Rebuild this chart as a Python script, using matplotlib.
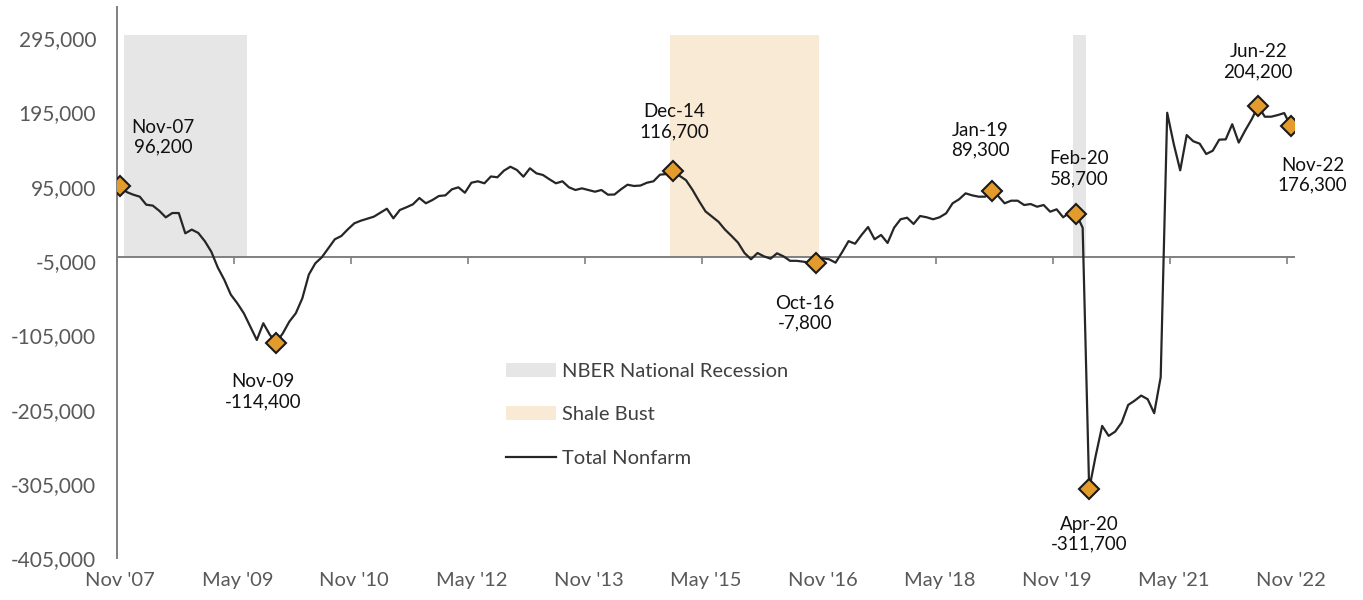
import matplotlib.pyplot as plt
import numpy as np
import pandas as pd

# over-the-year change in total nonfarm jobs, Nov 2007 - Nov 2022
months = pd.period_range('2007-11', '2022-11', freq='M')
jobs = [
    96200, 88000, 84500, 81800, 71000, 69800, 62800, 54000, 59800, 59800,
    32500, 37500, 33000, 22000, 7800, -13500, -30000, -50000, -61600, -75000,
    -93000, -111000, -88500, -104000, -114400, -102000, -86300, -75000, -54900, -23000,
    -7800, 300, 12400, 24500, 28900, 37900, 46000, 49500, 52200, 54900,
    60300, 65600, 52700, 63900, 67500, 71500, 80000, 72900, 77300, 82700,
    83600, 91700, 94400, 87100, 100600, 102500, 99800, 109000, 107900, 116800,
    122100, 117700, 108700, 120000, 113200, 111000, 105200, 99800, 102500, 94400,
    90800, 93000, 90800, 88500, 90800, 84500, 84700, 91700, 97900, 96200,
    96800, 100600, 102500, 111400, 112300, 116700, 110000, 104000, 91000, 76000,
    62000, 55000, 48000, 37500, 29000, 20000, 6000, -2400, 6000, 1500,
    -1600, 5600, 1500, -4500, -4500, -5600, -7000, -7800, -1100, -2400,
    -7000, 7000, 22000, 18500, 30300, 41000, 24500, 30300, 19500, 40000,
    51400, 53500, 45100, 55800, 54100, 51400, 54100, 59400, 72900, 78300,
    86300, 83600, 81800, 81800, 89300, 82700, 72900, 76400, 76400, 70600,
    71900, 68300, 70600, 61600, 64800, 54100, 60300, 58700, 40000, -311700,
    -267000, -226600, -240000, -234300, -222100, -198400, -192600, -185800, -190700, -209500,
    -161000, 194700, 153000, 117200, 164700, 156400, 153100, 139200, 143600, 158500,
    158900, 179300, 154600, 171000, 186000, 204200, 189400, 189400, 191600, 194300,
    176300,
]

recessions = [('2007-12', '2009-06'), ('2020-02', '2020-03')]
shale_bust = [('2014-12', '2016-10')]
shade_top = 300000

highlights = ['2007-11', '2009-11', '2014-12', '2016-10', '2019-01',
              '2020-02', '2020-04', '2022-06', '2022-11']
# label offsets from the marker, in pixels
label_offsets = [(43, 49), (-13, -49), (1, 49), (-11, -50), (-11, 51),
                 (3, 45), (0, -45), (0, 44), (22, -49)]

x_labels = ["Nov '07", "May '09", "Nov '10", "May '12", "Nov '13", "May '15",
            "Nov '16", "May '18", "Nov '19", "May '21", "Nov '22"]
y_ticks = [-405000, -305000, -205000, -105000, -5000, 95000, 195000, 295000]


def month_idx(m):
    return months.get_loc(pd.Period(m, freq='M'))


plt.rcParams['font.family'] = ['Lato', 'DejaVu Sans']

fig = plt.figure(figsize=(13.63, 6), dpi=100)
ax = fig.add_axes([117 / 1363, 1 - 558.5 / 600, (1294 - 117) / 1363, (558.5 - 7) / 600])

x = np.arange(len(months))

for a, b in recessions:
    idx = np.arange(month_idx(a), month_idx(b) + 1)
    rec = ax.bar(idx, shade_top, width=1.0, color='#e6e6e6', linewidth=0, zorder=1)
for a, b in shale_bust:
    idx = np.arange(month_idx(a), month_idx(b) + 1)
    sb = ax.bar(idx, shade_top, width=1.0, color='#f9ead6', linewidth=0, zorder=1)

line, = ax.plot(x, jobs, color='#262626', lw=1.6, zorder=3)

hi_x = [month_idx(m) for m in highlights]
hi_v = [jobs[i] for i in hi_x]
ax.plot(hi_x, hi_v, 'D', ms=10.5, mfc='#e39b2b', mec='#1a1a1a', mew=1.5, ls='none', zorder=4)

for i, v, off in zip(hi_x, hi_v, label_offsets):
    txt = months[i].strftime('%b-%y') + '\n' + f'{v:,}'
    ax.annotate(txt, xy=(i, v), xytext=off, textcoords='offset pixels',
                ha='center', va='center', fontsize=13.5, linespacing=1.2, color='#111111')

ax.set_xlim(-0.5, 180.5)
ax.set_ylim(-405000, 337000)

for s in ['top', 'right']:
    ax.spines[s].set_visible(False)
ax.spines['left'].set_color('#808080')
ax.spines['left'].set_linewidth(1.4)
ax.spines['bottom'].set_position(('data', 0))
ax.spines['bottom'].set_color('#808080')
ax.spines['bottom'].set_linewidth(1.4)
ax.spines['bottom'].set_zorder(2)

ax.set_xticks(np.arange(-0.5, len(months), 18))
ax.tick_params(axis='x', direction='out', length=5, width=1.2, color='#808080', labelbottom=False)

sec = ax.secondary_xaxis('bottom')
sec.set_xticks(x[::18], x_labels)
sec.spines['bottom'].set_visible(False)
sec.tick_params(length=0, pad=10, labelsize=14.5, labelcolor='#595959')

ax.set_yticks(y_ticks, [f'{t:,}' for t in y_ticks])
ax.tick_params(axis='y', length=0, pad=15, labelsize=15, labelcolor='#595959')

ax.legend([rec, sb, line], ['NBER National Recession', 'Shale Bust', 'Total Nonfarm'],
          loc='upper left', bbox_to_anchor=(506 / 1363, 1 - 363 / 600), bbox_transform=fig.transFigure,
          frameon=False, fontsize=14.5, handlelength=2.5, handleheight=0.7, handletextpad=0.3,
          labelspacing=1.3, borderpad=0, borderaxespad=0, labelcolor='#404040')

fig.savefig('out.png', dpi=100)
